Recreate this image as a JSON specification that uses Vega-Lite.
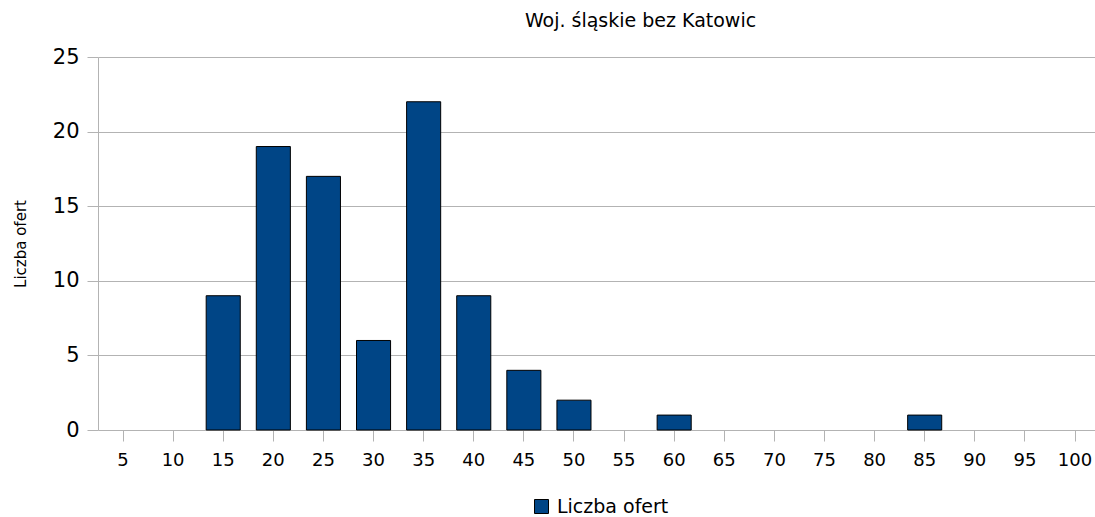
{
  "$schema": "https://vega.github.io/schema/vega-lite/v6.json",
  "autosize": "none",
  "padding": {"left": 98, "top": 57, "right": 0, "bottom": 87},
  "width": 997,
  "height": 373,
  "background": "white",
  "title": {
    "text": "Woj. śląskie bez Katowic",
    "font": "DejaVu Sans",
    "fontSize": 19,
    "fontWeight": "normal",
    "color": "black",
    "anchor": "middle",
    "dx": 44,
    "offset": 15
  },
  "data": {
    "values": [
      {"przedzial": "5", "liczba": 0},
      {"przedzial": "10", "liczba": 0},
      {"przedzial": "15", "liczba": 9},
      {"przedzial": "20", "liczba": 19},
      {"przedzial": "25", "liczba": 17},
      {"przedzial": "30", "liczba": 6},
      {"przedzial": "35", "liczba": 22},
      {"przedzial": "40", "liczba": 9},
      {"przedzial": "45", "liczba": 4},
      {"przedzial": "50", "liczba": 2},
      {"przedzial": "55", "liczba": 0},
      {"przedzial": "60", "liczba": 1},
      {"przedzial": "65", "liczba": 0},
      {"przedzial": "70", "liczba": 0},
      {"przedzial": "75", "liczba": 0},
      {"przedzial": "80", "liczba": 0},
      {"przedzial": "85", "liczba": 1},
      {"przedzial": "90", "liczba": 0},
      {"przedzial": "95", "liczba": 0},
      {"przedzial": "100", "liczba": 0}
    ]
  },
  "mark": {"type": "bar", "strokeWidth": 1},
  "encoding": {
    "x": {
      "field": "przedzial",
      "type": "ordinal",
      "sort": null,
      "scale": {"paddingInner": 0.32, "paddingOuter": 0.109, "align": 0.73},
      "axis": {
        "title": null,
        "labelAngle": 0,
        "labelFont": "DejaVu Sans",
        "labelFontSize": 18,
        "labelColor": "black",
        "labelPadding": 10,
        "tickSize": 11,
        "tickColor": "#b3b3b3",
        "domain": false,
        "grid": false
      }
    },
    "y": {
      "field": "liczba",
      "type": "quantitative",
      "scale": {"domain": [0, 25], "nice": false},
      "axis": {
        "title": "Liczba ofert",
        "titleFont": "DejaVu Sans",
        "titleFontSize": 15,
        "titleFontWeight": "normal",
        "titleColor": "black",
        "titlePadding": 24,
        "values": [0, 5, 10, 15, 20, 25],
        "labelFont": "DejaVu Sans",
        "labelFontSize": 21,
        "labelColor": "black",
        "labelPadding": 8,
        "tickSize": 11,
        "tickColor": "#b3b3b3",
        "domainColor": "#b3b3b3",
        "gridColor": "#b3b3b3",
        "grid": true
      }
    },
    "color": {
      "datum": "Liczba ofert",
      "type": "nominal",
      "scale": {"range": ["#004586"]},
      "legend": {
        "title": null,
        "orient": "none",
        "legendX": 434,
        "legendY": 440,
        "padding": 0,
        "symbolType": "square",
        "symbolSize": 196,
        "symbolStrokeColor": "black",
        "symbolStrokeWidth": 1,
        "symbolOpacity": 1,
        "labelFont": "DejaVu Sans",
        "labelFontSize": 19,
        "labelColor": "black",
        "labelOffset": 6
      }
    },
    "stroke": {
      "condition": {"test": "datum.liczba > 0", "value": "black"},
      "value": null
    }
  },
  "config": {"view": {"stroke": null}}
}
